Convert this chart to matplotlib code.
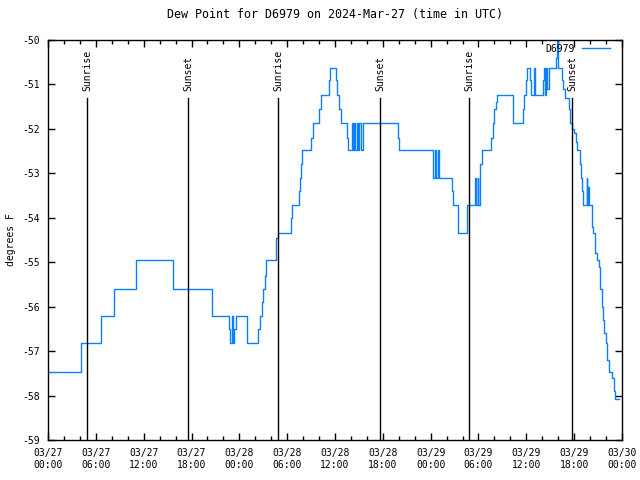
import numpy as np
import matplotlib
matplotlib.use('Agg')
import matplotlib.pyplot as plt
from matplotlib.ticker import MultipleLocator, FixedLocator

plt.rcParams['font.family'] = 'DejaVu Sans Mono'
plt.rcParams['font.size'] = 7
plt.rcParams['axes.unicode_minus'] = False

# hours since 2024-03-27 00:00 UTC where the reading changes, and the new value (deg F)
hours = [0.00, 4.14, 6.59, 8.28, 11.10, 15.74, 20.51, 22.70, 22.83, 23.08, 23.21, 23.33,
         23.58, 24.96, 26.34, 26.59, 26.84, 26.97, 27.16, 27.35, 28.66, 28.79, 30.48,
         30.61, 31.49, 31.61, 31.74, 31.86, 32.99, 33.18, 33.99, 34.24, 35.25, 35.37,
         36.13, 36.31, 36.50, 36.69, 37.51, 37.63, 38.13, 38.26, 38.38, 38.51, 38.76,
         38.89, 39.07, 39.20, 39.51, 43.90, 44.09, 48.29, 48.54, 48.67, 48.86, 49.05,
         50.68, 50.80, 51.49, 52.50, 52.56, 53.56, 53.69, 53.88, 54.00, 54.13, 54.25,
         54.38, 55.63, 55.76, 55.95, 56.20, 56.36, 58.27, 58.33, 59.52, 59.65, 59.96,
         60.09, 60.46, 60.59, 60.90, 61.09, 62.09, 62.22, 62.34, 62.47, 62.59, 62.84,
         63.72, 63.85, 63.97, 64.44, 64.60, 64.85, 65.35, 65.54, 65.73, 66.02, 66.19,
         66.32, 66.73, 66.86, 67.02, 67.15, 67.57, 67.67, 67.77, 67.86, 68.20, 68.40,
         68.61, 68.90, 69.11, 69.28, 69.45, 69.62, 69.78, 69.96, 70.16, 70.37, 70.78,
         71.00, 71.16, 71.66]
dewpt = [-57.46, -56.82, -56.20, -55.60, -54.96, -55.60, -56.20, -56.50, -56.82, -56.20, -56.82, -56.50,
         -56.20, -56.82, -56.50, -56.20, -55.90, -55.60, -55.30, -54.96, -54.46, -54.34, -54.00,
         -53.72, -53.40, -53.10, -52.80, -52.48, -52.20, -51.86, -51.55, -51.24, -50.90, -50.62,
         -50.90, -51.24, -51.55, -51.86, -52.20, -52.48, -51.86, -52.48, -51.86, -52.48, -51.86,
         -52.48, -51.86, -52.48, -51.86, -52.20, -52.48, -53.10, -52.48, -53.10, -52.48, -53.10,
         -53.40, -53.72, -54.34, -54.00, -53.72, -53.10, -53.72, -53.10, -53.72, -53.10, -52.80,
         -52.48, -52.20, -51.86, -51.55, -51.40, -51.24, -51.55, -51.86, -51.55, -51.24, -50.90,
         -50.62, -50.90, -51.24, -50.62, -51.24, -50.90, -50.62, -51.24, -50.62, -51.10, -50.62,
         -50.40, -50.00, -50.62, -50.90, -51.10, -51.30, -51.55, -51.86, -52.00, -52.10, -52.30,
         -52.48, -52.80, -53.10, -53.40, -53.72, -53.10, -53.72, -53.30, -53.72, -54.20, -54.34,
         -54.80, -54.96, -55.10, -55.60, -56.00, -56.30, -56.60, -56.82, -57.20, -57.46, -57.60,
         -57.90, -58.07, -58.07]

sun_hours = [4.89, 17.56, 28.85, 41.65, 52.82, 65.74]
sun_labels = ['Sunrise', 'Sunset', 'Sunrise', 'Sunset', 'Sunrise', 'Sunset']

tick_labels = ['03/27\n00:00', '03/27\n06:00', '03/27\n12:00', '03/27\n18:00',
               '03/28\n00:00', '03/28\n06:00', '03/28\n12:00', '03/28\n18:00',
               '03/29\n00:00', '03/29\n06:00', '03/29\n12:00', '03/29\n18:00',
               '03/30\n00:00']

fig = plt.figure(figsize=(6.4, 4.8), dpi=100)
ax = fig.add_axes([48/640, 40/480, 574/640, 400/480])

ax.step(hours, dewpt, where='post', color='#0a80ff', lw=1.0, label='D6979')

for h, lab in zip(sun_hours, sun_labels):
    ax.axvline(h, ymin=0, ymax=0.855, color='black', lw=1.0)
    ax.text(h, -51.15, lab, rotation=90, ha='center', va='bottom')

ax.set_xlim(0, 72)
ax.set_ylim(-59, -50)
ax.xaxis.set_major_locator(FixedLocator(np.arange(0, 73, 6)))
ax.set_xticklabels(tick_labels)
ax.xaxis.set_minor_locator(MultipleLocator(2))
ax.yaxis.set_major_locator(MultipleLocator(1))
ax.tick_params(which='both', direction='in', top=True, right=True, width=1.0)
ax.tick_params(which='major', length=5, pad=6)
ax.tick_params(which='minor', length=3)
for s in ax.spines.values():
    s.set_linewidth(1.0)

ax.set_ylabel('degrees F', labelpad=4)
ax.set_title('Dew Point for D6979 on 2024-Mar-27 (time in UTC)', pad=16)

leg = ax.legend(loc='upper right', bbox_to_anchor=(0.986, 1.0), frameon=False,
                handlelength=2.9, markerfirst=False, borderaxespad=0.0,
                handletextpad=0.7)

fig.savefig('out.png', dpi=100)
